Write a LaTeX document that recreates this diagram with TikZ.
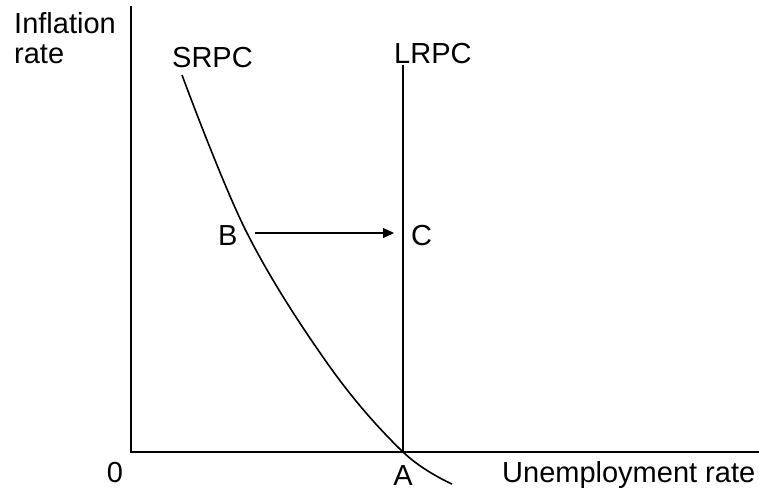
\documentclass[tikz,border=0pt]{standalone}
\usepackage{fontspec}
\setmainfont{Liberation Sans}
\usetikzlibrary{arrows.meta}
\begin{document}
\begin{tikzpicture}[x=1pt,y=-1pt,
  lbl/.style={font=\fontsize{29}{32}\selectfont, inner sep=0pt},
  ln/.style={line width=1.6pt}]
\useasboundingbox (0,0) rectangle (759,490);
\coordinate (O) at (131,452);
\coordinate (Ytop) at (131,6);
\coordinate (Xend) at (759,452);
\coordinate (Ltop) at (403,65);
\coordinate (A) at (403,452);
\coordinate (Bs) at (255,233);
\coordinate (Ce) at (394,233);
\draw[ln] (Ytop) -- (O) -- (Xend);
\draw[ln] (Ltop) -- (A);
\draw[ln] plot[smooth, tension=0.6] coordinates {(182,75) (247,233) (330,367) (403,452) (452,484)};
\draw[line width=1.1pt, -{Triangle[length=11pt,width=10pt]}] (Bs) -- (Ce);
\node[lbl, anchor=base west] (infl) at (14,33) {Inflation};
\node[lbl, anchor=base west] (rate) at (14,63) {rate};
\node[lbl, anchor=base west] (srpc) at (172,67) {SRPC};
\node[lbl, anchor=base west] (lrpc) at (394,63) {LRPC};
\node[lbl, anchor=base west] (b) at (218,245) {B};
\node[lbl, anchor=base west] (c) at (411,245) {C};
\node[lbl, anchor=base] (zero) at (115,482) {0};
\node[lbl, anchor=base] (a) at (403,485) {A};
\node[lbl, anchor=base west] (unemp) at (502,482) {Unemployment rate};
\end{tikzpicture}
\end{document}
